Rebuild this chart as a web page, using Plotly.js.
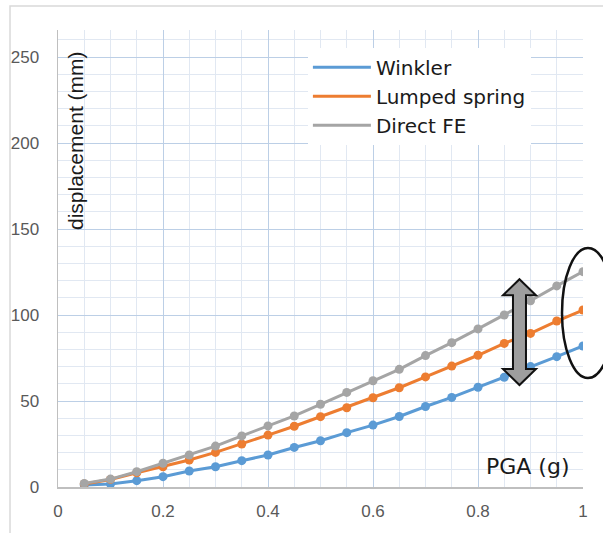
<!DOCTYPE html>
<html><head><meta charset="utf-8">
<script src="https://cdn.plot.ly/plotly-3.0.1.min.js"></script>
<style>html,body{margin:0;padding:0;background:#fff}#chart{width:603px;height:533px}</style>
</head><body><div id="chart"></div>
<script>
// PGA (g)
const pga = [0.05,0.10,0.15,0.20,0.25,0.30,0.35,0.40,0.45,0.50,0.55,0.60,0.65,0.70,0.75,0.80,0.85,0.90,0.95,1.00];
// displacement (mm)
const winkler  = [1.2,1.7,3.7,6.0,9.3,11.8,15.3,18.6,23.0,26.9,31.6,36.0,41.0,46.8,52.1,58.0,63.8,70.0,75.8,82.0];
const lumped   = [1.8,4.4,8.3,11.8,15.7,20.1,25.0,30.2,35.3,40.9,46.1,51.9,57.7,64.0,70.3,76.6,83.5,89.3,96.5,102.9];
const directFE = [2.1,4.6,8.9,13.8,18.6,23.8,29.7,35.5,41.3,48.1,55.0,61.8,68.4,76.4,83.9,91.9,100.0,108.3,116.9,125.2];
const seriesNames = ["Winkler","Lumped spring","Direct FE"];
const xTickVals = [0,0.2,0.4,0.6,0.8,1];
const xTickText = ["0","0.2","0.4","0.6","0.8","1"];
const yTickVals = [0,50,100,150,200,250];
const yTickText = ["0","50","100","150","200","250"];

const colors = ["#5B9BD5","#ED7D31","#A5A5A5"];
const ys = [winkler, lumped, directFE];
const traces = [];
ys.forEach((y,i)=>{
  traces.push({x:pga,y:y,type:"scatter",mode:"lines",name:seriesNames[i],
    line:{color:colors[i],width:3},hoverinfo:"skip"});
  traces.push({x:pga,y:y,type:"scatter",mode:"markers",name:seriesNames[i],showlegend:false,
    marker:{color:colors[i],size:9}});
});

// arrow geometry (data coords)
const ax = 0.879, hw = 0.0314, sw = 0.0124, yt = 120.8, yb = 59.3, hh = 9.3;
const arrowPath = `M${ax},${yt} L${ax+hw},${yt-hh} L${ax+sw},${yt-hh} L${ax+sw},${yb+hh} L${ax+hw},${yb+hh} L${ax},${yb} L${ax-hw},${yb+hh} L${ax-sw},${yb+hh} L${ax-sw},${yt-hh} L${ax-hw},${yt-hh} Z`;

const layout = {
  width:603, height:533,
  margin:{l:58,r:20,t:30,b:46},
  paper_bgcolor:"#fff", plot_bgcolor:"#fff",
  showlegend:true,
  legend:{x:0.476,xanchor:"left",y:0.961,yanchor:"top",bgcolor:"#fff",
    font:{family:"DejaVu Sans",size:20,color:"#1a1a1a"},itemwidth:58,tracegroupgap:0},
  xaxis:{range:[0,1],tickvals:xTickVals,ticktext:xTickText,
    tickfont:{family:"Liberation Sans",size:17,color:"#595959"},ticklabelstandoff:8,
    showgrid:true,gridcolor:"#bccfe6",gridwidth:1,zeroline:false,
    showline:true,linecolor:"#bfbfbf",linewidth:1.5,ticks:"",
    minor:{dtick:0.05,showgrid:true,gridcolor:"#e1e8f2",gridwidth:1,ticks:""},fixedrange:true},
  yaxis:{range:[0,265.7],tickvals:yTickVals,ticktext:yTickText,
    tickfont:{family:"Liberation Sans",size:17,color:"#595959"},ticklabelstandoff:14,
    showgrid:true,gridcolor:"#bccfe6",gridwidth:1,zeroline:false,
    showline:true,linecolor:"#bfbfbf",linewidth:1.5,ticks:"",
    minor:{dtick:10,showgrid:true,gridcolor:"#e1e8f2",gridwidth:1,ticks:""},fixedrange:true},
  shapes:[
    {type:"rect",xref:"paper",yref:"paper",x0:-0.0914,x1:1.2,y0:-0.3,y1:1.0525,
      line:{color:"#d9d9d9",width:1.5},fillcolor:"rgba(0,0,0,0)",layer:"below"},
    {type:"path",xref:"x",yref:"y",path:arrowPath,fillcolor:"#9e9e9e",
      line:{color:"#111",width:2},layer:"above"},
    {type:"circle",xref:"paper",yref:"paper",x0:0.96,x1:1.059,y0:0.2385,y1:0.523,
      line:{color:"#111",width:2.5},fillcolor:"rgba(0,0,0,0)",layer:"above"}
  ],
  annotations:[
    {text:"displacement (mm)",xref:"paper",yref:"paper",x:(75-58)/525,y:(487-141)/457,
      textangle:-90,showarrow:false,xanchor:"center",yanchor:"middle",
      font:{family:"Liberation Sans",size:21,color:"#1a1a1a"}},
    {text:"PGA (g)",xref:"paper",yref:"paper",x:(528-58)/525,y:(487-466)/457,
      showarrow:false,xanchor:"center",yanchor:"middle",
      font:{family:"DejaVu Sans",size:22,color:"#1a1a1a"}}
  ]
};
Plotly.newPlot("chart",traces,layout,{displayModeBar:false,staticPlot:true});
</script></body></html>
